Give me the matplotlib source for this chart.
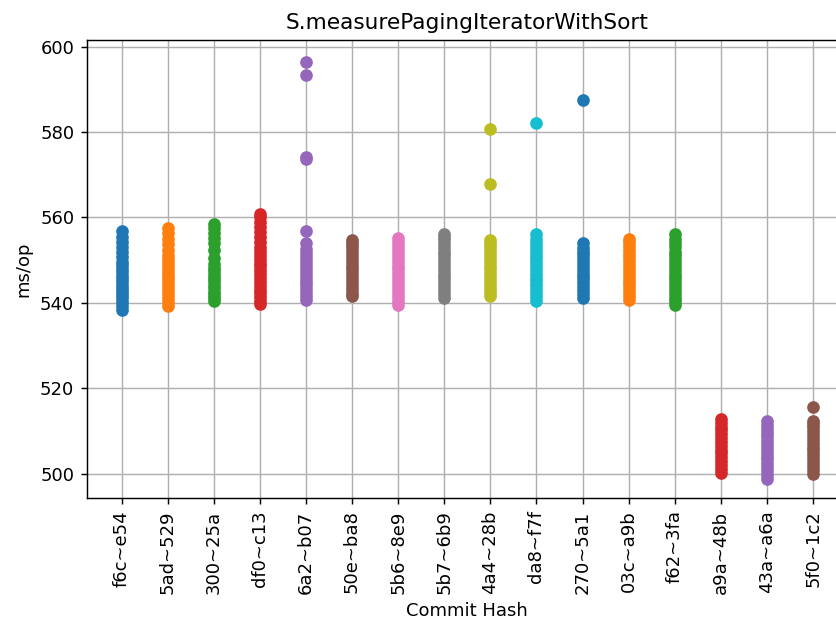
from matplotlib import pyplot as plt

# rotulos dos commits (eixo x)
commits = ['f6c~e54', '5ad~529', '300~25a', 'df0~c13', '6a2~b07', '50e~ba8',
           '5b6~8e9', '5b7~6b9', '4a4~28b', 'da8~f7f', '270~5a1', '03c~a9b',
           'f62~3fa', 'a9a~48b', '43a~a6a', '5f0~1c2']

# tempos medidos (ms/op) para cada commit
f6c_e54 = [538.4, 539.2, 540.1, 541.0, 541.8, 542.5, 543.3, 544.0, 544.8, 545.6,
           546.3, 547.1, 548.0, 548.9, 549.6, 550.8, 552.0, 553.1, 554.3, 555.5, 556.7]
ad5_529 = [539.3, 540.2, 541.1, 542.0, 543.0, 543.9, 544.8, 545.7, 546.6, 547.5,
           548.4, 549.3, 550.2, 551.2, 552.4, 553.8, 555.0, 556.3, 557.6]
a300_25a = [540.3, 541.0, 541.8, 542.6, 543.4, 544.2, 545.0, 545.8, 546.6, 547.4,
            548.2, 549.0, 550.4, 552.4, 553.9, 555.1, 556.4, 557.6, 558.5]
df0_c13 = [539.6, 540.4, 541.3, 542.2, 543.1, 544.0, 544.9, 545.8, 546.7, 547.6,
           548.5, 549.4, 550.3, 551.2, 552.1, 553.1, 554.2, 555.4, 556.6, 557.8,
           559.0, 560.0, 560.7]
a6a2_b07 = [540.7, 541.6, 542.5, 543.4, 544.3, 545.2, 546.1, 547.0, 547.9, 548.8,
            549.7, 550.6, 551.6, 552.7, 553.9, 556.7, 573.6, 574.2, 593.4, 596.3]
a50e_ba8 = [541.5, 542.4, 543.3, 544.2, 545.1, 546.0, 546.9, 547.8, 548.7, 549.6,
            550.5, 551.4, 552.3, 553.2, 554.0, 554.8]
a5b6_8e9 = [539.4, 540.4, 541.4, 542.4, 543.3, 544.2, 545.1, 546.0, 546.9, 547.8,
            548.7, 549.6, 550.5, 551.4, 552.3, 553.3, 554.2, 555.1]
a5b7_6b9 = [541.2, 542.1, 543.0, 543.9, 544.8, 545.7, 546.6, 547.5, 548.4, 549.3,
            550.2, 551.1, 552.0, 552.9, 553.8, 554.8, 555.5, 556.2]
a4a4_28b = [541.5, 542.4, 543.3, 544.2, 545.1, 546.0, 546.9, 547.8, 548.7, 549.6,
            550.5, 551.4, 552.3, 553.2, 554.0, 554.6, 567.7, 580.8]
da8_f7f = [540.5, 541.4, 542.3, 543.2, 544.1, 545.0, 545.9, 546.8, 547.7, 548.6,
           549.5, 550.4, 551.3, 552.2, 553.1, 554.0, 555.0, 556.1, 582.0]
a270_5a1 = [541.2, 542.1, 543.0, 543.9, 544.8, 545.7, 546.6, 547.5, 548.4, 549.3,
            550.2, 551.1, 552.0, 552.9, 553.9, 587.6]
a03c_a9b = [540.7, 541.6, 542.5, 543.4, 544.3, 545.2, 546.1, 547.0, 547.9, 548.8,
            549.7, 550.6, 551.5, 552.4, 553.3, 554.2, 555.0]
f62_3fa = [539.4, 540.3, 541.2, 542.1, 543.0, 543.9, 544.8, 545.7, 546.6, 547.5,
           548.4, 549.3, 550.2, 551.1, 552.0, 553.0, 554.0, 555.0, 556.1]
a9a_48b = [500.2, 501.1, 502.0, 502.9, 503.8, 504.7, 505.6, 506.5, 507.4, 508.3,
           509.2, 510.1, 511.0, 511.9, 512.7]
a43a_a6a = [498.8, 499.7, 500.6, 501.5, 502.4, 503.3, 504.2, 505.1, 506.0, 506.9,
            507.8, 508.7, 509.6, 510.5, 511.4, 512.4]
a5f0_1c2 = [500.0, 500.9, 501.8, 502.7, 503.6, 504.5, 505.4, 506.3, 507.2, 508.1,
            509.0, 509.9, 510.8, 511.6, 512.2, 515.5]

medidas = [f6c_e54, ad5_529, a300_25a, df0_c13, a6a2_b07, a50e_ba8, a5b6_8e9,
           a5b7_6b9, a4a4_28b, da8_f7f, a270_5a1, a03c_a9b, f62_3fa, a9a_48b,
           a43a_a6a, a5f0_1c2]


def desenha():
    # dpi 130 para a figura ficar com 836x631 pixels e tudo um pouco maior
    fig = plt.figure(figsize=(836 / 130, 631 / 130), dpi=130)
    ax = fig.add_axes([0.104, 0.211, 0.91, 0.726])

    for i, valores in enumerate(medidas):
        ax.scatter([i] * len(valores), valores, zorder=2)

    ax.set_xticks(range(len(commits)))
    ax.set_xticklabels(commits, rotation=90)
    ax.set_xlim(-0.75, 15.75)
    ax.set_ylim(494.3, 601.6)
    ax.set_yticks([500, 520, 540, 560, 580, 600])
    ax.grid(True, zorder=0)
    ax.set_axisbelow(True)

    ax.set_title('S.measurePagingIteratorWithSort')
    ax.set_xlabel('Commit Hash')
    ax.set_ylabel('ms/op')

    plt.savefig('out.png', format='png', dpi=130)


if __name__ == '__main__':
    desenha()
